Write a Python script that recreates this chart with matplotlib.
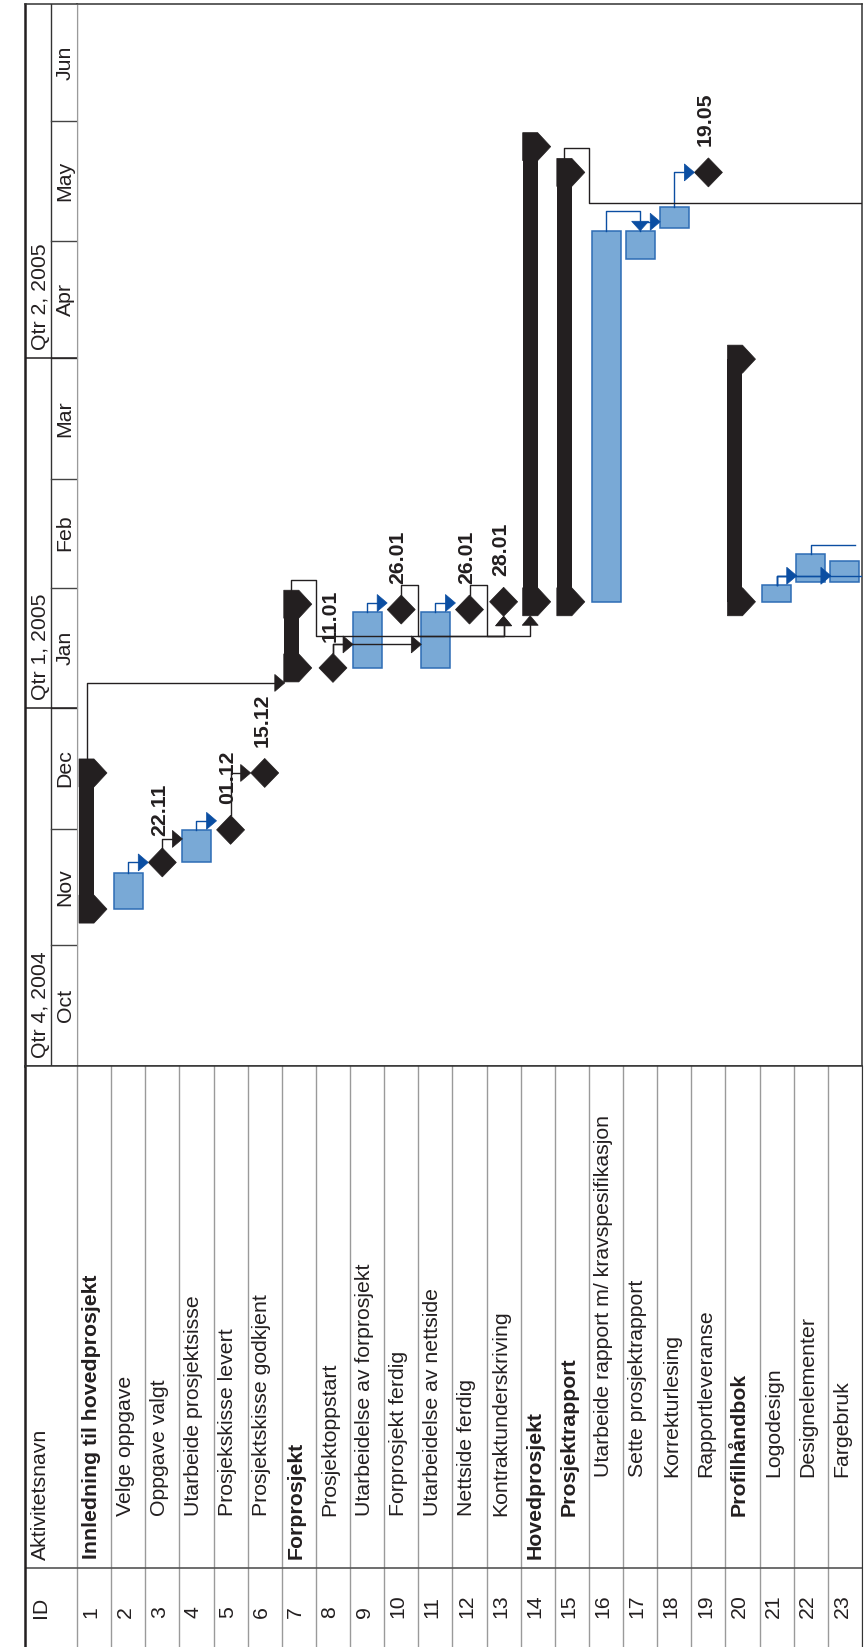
import matplotlib
matplotlib.use('Agg')
import matplotlib.pyplot as plt
import matplotlib.dates as mdates
from matplotlib.patches import Polygon, Rectangle
from datetime import datetime

plt.rcParams['font.family'] = ['Liberation Sans', 'DejaVu Sans']

# ---- data ----
ids = list(range(1, 24))
names = ['Innledning til hovedprosjekt', 'Velge oppgave', 'Oppgave valgt',
         'Utarbeide prosjektsisse', 'Prosjekskisse levert', 'Prosjektskisse godkjent',
         'Forprosjekt', 'Prosjektoppstart', 'Utarbeidelse av forprosjekt',
         'Forprosjekt ferdig', 'Utarbeidelse av nettside', 'Nettside ferdig',
         'Kontraktunderskriving', 'Hovedprosjekt', 'Prosjektrapport',
         'Utarbeide rapport m/ kravspesifikasjon', 'Sette prosjektrapport',
         'Korrekturlesing', 'Rapportleveranse', 'Profilhåndbok', 'Logodesign',
         'Designelementer', 'Fargebruk']
levels = [1, 2, 2, 2, 2, 2, 1, 2, 2, 2, 2, 2, 2, 1, 2, 3, 3, 3, 3, 2, 3, 3, 3]
kinds = ['summary', 'task', 'milestone', 'task', 'milestone', 'milestone',
         'summary', 'milestone', 'task', 'milestone', 'task', 'milestone', 'milestone',
         'summary', 'summary', 'task', 'task', 'task', 'milestone',
         'summary', 'task', 'task', 'task']
starts = ['2004-11-10 08:00', '2004-11-10 08:00', '2004-11-22 08:00', '2004-11-22 08:00',
          '2004-11-30 17:00', '2004-12-15 08:00', '2005-01-11 08:00', '2005-01-11 08:00',
          '2005-01-11 08:00', '2005-01-26 08:00', '2005-01-11 08:00', '2005-01-26 08:00',
          '2005-01-28 08:00', '2005-01-28 08:00', '2005-01-28 08:00', '2005-01-28 08:00',
          '2005-04-26 08:00', '2005-05-04 08:00', '2005-05-18 17:00', '2005-01-28 08:00',
          '2005-01-28 08:00', '2005-02-02 08:00', '2005-02-02 08:00']
finishes = ['2004-12-15 08:00', '2004-11-19 17:00', '2004-11-22 08:00', '2004-11-30 17:00',
            '2004-11-30 17:00', '2004-12-15 08:00', '2005-01-27 17:00', '2005-01-11 08:00',
            '2005-01-25 17:00', '2005-01-26 08:00', '2005-01-25 17:00', '2005-01-26 08:00',
            '2005-01-28 08:00', '2005-05-25 08:00', '2005-05-18 17:00', '2005-05-03 17:00',
            '2005-05-03 17:00', '2005-05-09 17:00', '2005-05-18 17:00', '2005-03-31 17:00',
            '2005-02-01 17:00', '2005-02-09 17:00', '2005-02-07 17:00']
date_labels = ['', '', '22.11', '', '01.12', '15.12', '', '11.01', '', '26.01', '',
               '26.01', '28.01', '', '', '', '', '', '19.05', '', '', '', '']

# rows below the visible part (only their links show)
hidden_rows = [24, 25, 26]
hidden_starts = ['2005-02-10 08:00', '2005-02-02 08:00', '2005-05-16 00:00']

link_from = [2, 3, 4, 5, 1, 8, 8, 9, 11, 16, 17, 18, 21, 21, 7, 10, 12, 22, 21, 15]
link_to = [3, 4, 5, 6, 7, 9, 11, 10, 12, 17, 18, 19, 22, 23, 14, 13, 13, 24, 25, 26]
link_type = ['fs', 'fs', 'fs', 'fs', 'fs', 'fs', 'fs', 'fs', 'fs', 'ff', 'fs', 'fs',
             'fs', 'fs', 'loop', 'loop', 'loop', 'fs', 'fs', 'loop']

months = ['Oct', 'Nov', 'Dec', 'Jan', 'Feb', 'Mar', 'Apr', 'May', 'Jun']
month_starts = ['2004-10-01', '2004-11-01', '2004-12-01', '2005-01-01', '2005-02-01',
                '2005-03-01', '2005-04-01', '2005-05-01', '2005-06-01', '2005-07-01']
quarters = ['Qtr 4, 2004', 'Qtr 1, 2005', 'Qtr 2, 2005']
quarter_starts = ['2004-10-01', '2005-01-01', '2005-04-01']

# ---- helpers ----
def dn(s):
    fmt = '%Y-%m-%d %H:%M' if ' ' in s else '%Y-%m-%d'
    return mdates.date2num(datetime.strptime(s, fmt))

BLACK = '#231f20'
BAR = '#79a9d6'
BAR_EDGE = '#2d6cb5'
LINK_BLUE = '#0b4ea2'
GRID = '#9a9a9a'
FS = 15.3

W, H = 864, 1647
fig = plt.figure(figsize=(W / 100, H / 100), dpi=100)

top_px, split_px, left_px, head_px, right_px = 4, 1066, 25, 77, 862
ax = fig.add_axes([head_px / W, (H - split_px) / H, (right_px - head_px) / W, (split_px - top_px) / H])
hx = fig.add_axes([left_px / W, (H - split_px) / H, (head_px - left_px) / W, (split_px - top_px) / H],
                  sharey=ax)
tx = fig.add_axes([left_px / W, 0, (right_px - left_px) / W, (H - split_px) / H])

t0, t1 = dn(month_starts[0]), dn(month_starts[-1])
n_rows = len(ids)
ax.set_xlim(0.5, n_rows + 0.5)
ax.set_ylim(t0, t1)

ROW_PX = (right_px - head_px) / n_rows
DAY_PX = (split_px - top_px) / (t1 - t0)


def xr(px):
    return px / ROW_PX


def yd(px):
    return px / DAY_PX


rows = {}
for i, k, s, f in zip(ids, kinds, starts, finishes):
    rows[i] = (k, dn(s), dn(f))
for i, s in zip(hidden_rows, hidden_starts):
    rows[i] = ('task', dn(s), dn(s))

# ---- gantt shapes ----
for i, k, s, f, lab in zip(ids, kinds, starts, finishes, date_labels):
    s, f = dn(s), dn(f)
    if k == 'task':
        ax.add_patch(Rectangle((i - xr(14.5), s), xr(29), f - s, fc=BAR, ec=BAR_EDGE,
                               lw=1.1, zorder=2))
    elif k == 'milestone':
        ax.add_patch(Polygon([(i - xr(14), s), (i, s + yd(14.5)), (i + xr(14), s),
                              (i, s - yd(14.5))], closed=True, fc=BLACK, ec=BLACK,
                             lw=0.5, zorder=2))
        ax.text(i - xr(3), s + yd(26), lab, rotation=90, ha='center', va='bottom',
                fontsize=FS, fontweight='bold', color=BLACK, zorder=5)
    else:
        L = i - 0.5 + xr(2)
        ax.add_patch(Rectangle((L, s), xr(15), f - s, fc=BLACK, ec='none', zorder=2))
        for c in (s, f):
            ax.add_patch(Polygon([(L, c - yd(14)), (L + xr(15), c - yd(14)),
                                  (L + xr(28), c), (L + xr(15), c + yd(14)),
                                  (L, c + yd(14))], closed=True, fc=BLACK, ec=BLACK,
                                 lw=0.5, zorder=2))


def anchor_x(i):
    k = rows[i][0]
    if k == 'summary':
        return i - 0.5 + xr(9.5)
    return i


def top_of(i):
    k, s, f = rows[i]
    if k == 'milestone':
        return f + yd(14.5)
    if k == 'summary':
        return f + yd(14)
    return f


def bottom_of(i):
    k, s, f = rows[i]
    if k == 'milestone':
        return s - yd(14.5)
    if k == 'summary':
        return s - yd(14)
    return s


def ref_of(i):
    k, s, f = rows[i]
    if k == 'summary':
        return s - yd(15)
    return s


for p, q, lt in zip(link_from, link_to, link_type):
    col = LINK_BLUE if rows[p][0] == 'task' else BLACK
    px = anchor_x(p)
    pt = top_of(p)
    head = q <= n_rows  # no arrowhead for rows outside the view
    if lt == 'fs':
        yl = max(ref_of(q), pt + yd(9))
        tip = q - 0.5 + xr(3)
        ax.plot([px, px, tip - xr(10)], [pt, yl, yl], color=col, lw=1.0, zorder=3)
        if head:
            ax.add_patch(Polygon([(tip - xr(10), yl - yd(8.5)), (tip, yl),
                                  (tip - xr(10), yl + yd(8.5))], closed=True, fc=col,
                                 ec=col, lw=0.5, zorder=3))
    elif lt == 'ff':
        yl = pt + yd(20)
        qx = anchor_x(q)
        qt = top_of(q)
        ax.plot([px, px, qx, qx], [pt, yl, yl, qt + yd(9.5)], color=col, lw=1.0, zorder=3)
        ax.add_patch(Polygon([(qx - xr(8.5), qt + yd(9.5)), (qx, qt),
                              (qx + xr(8.5), qt + yd(9.5))], closed=True, fc=col,
                             ec=col, lw=0.5, zorder=3))
    else:
        yh = pt + yd(10)
        qx = anchor_x(q)
        qb = bottom_of(q)
        yl = qb - yd(20)
        ax.plot([px, px, p + 0.5, p + 0.5, qx, qx],
                [pt, yh, yh, yl, yl, qb - yd(9.5)], color=col, lw=1.0, zorder=3)
        if head:
            ax.add_patch(Polygon([(qx - xr(8), qb - yd(9.5)), (qx, qb),
                                  (qx + xr(8), qb - yd(9.5))], closed=True, fc=col,
                                 ec=col, lw=0.5, zorder=3))

ax.set_xticks([])
ax.set_yticks([])
for side in ('top', 'right', 'bottom'):
    ax.spines[side].set_color('#333333')
    ax.spines[side].set_linewidth(1.1)
ax.spines['left'].set_color(GRID)
ax.spines['left'].set_linewidth(1.0)

# ---- timescale header ----
hx.set_xlim(0, 1)
hx.axvline(0.5, color='#333333', lw=1.0)
for m, a, b in zip(months, month_starts[:-1], month_starts[1:]):
    ya, yb = dn(a), dn(b)
    hx.text(0.77, (ya + yb) / 2, m, rotation=90, ha='center', va='center',
            fontsize=FS, color=BLACK)
    if ya > t0:
        hx.plot([0.5, 1], [ya, ya], color='#444444', lw=1.0)
for qn, qs in zip(quarters, quarter_starts):
    yq = dn(qs)
    hx.text(0.29, yq + yd(8), qn, rotation=90, ha='center', va='bottom',
            fontsize=FS, color=BLACK)
    if yq > t0:
        hx.plot([0, 1], [yq, yq], color=BLACK, lw=1.1)
hx.set_xticks([])
hx.tick_params(left=False, labelleft=False)
hx.spines['left'].set_linewidth(1.8)
hx.spines['left'].set_color(BLACK)
hx.spines['right'].set_color(GRID)
for side in ('top', 'bottom'):
    hx.spines[side].set_color('#333333')
    hx.spines[side].set_linewidth(1.1)

# ---- activity table ----
tab_h = H - split_px
tx.set_xlim(0.5 - (head_px - left_px) / ROW_PX, n_rows + 0.5)
tx.set_ylim(0, tab_h)
id_col = 79
for k in range(n_rows + 1):
    tx.plot([k + 0.5, k + 0.5], [0, tab_h], color=GRID, lw=1.0)
tx.plot([0.5 - (head_px - left_px) / ROW_PX, n_rows + 0.5], [id_col, id_col],
        color='#555555', lw=1.2)

hdr_x = 0.5 - (head_px - 40) / ROW_PX
tx.text(hdr_x, 29, 'ID', rotation=90, ha='center', va='bottom', fontsize=FS, color=BLACK)
tx.text(hdr_x, 87, 'Aktivitetsnavn', rotation=90, ha='center', va='bottom',
        fontsize=FS, color=BLACK)

indent = {1: 88, 2: 131, 3: 170}
for i, nm, lv, k in zip(ids, names, levels, kinds):
    tx.text(i - xr(3), 29, str(i), rotation=90, ha='center', va='bottom',
            fontsize=FS, color=BLACK)
    tx.text(i - xr(3), indent[lv], nm, rotation=90, ha='center', va='bottom',
            fontsize=FS, color=BLACK,
            fontweight='bold' if k == 'summary' else 'normal')

tx.set_xticks([])
tx.set_yticks([])
tx.spines['bottom'].set_visible(False)
tx.spines['left'].set_linewidth(1.8)
tx.spines['left'].set_color(BLACK)
tx.spines['top'].set_color('#333333')
tx.spines['top'].set_linewidth(1.1)
tx.spines['right'].set_color('#333333')

fig.savefig('out.png', dpi=100)
